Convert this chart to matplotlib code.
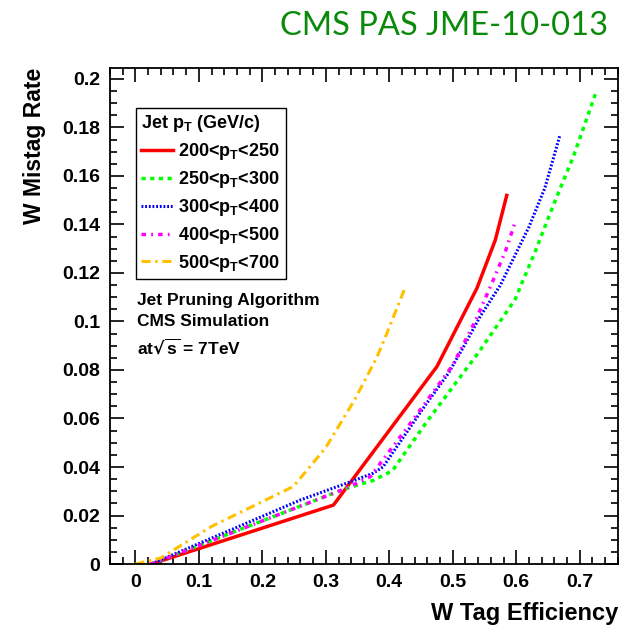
import matplotlib
matplotlib.use("Agg")
import matplotlib.pyplot as plt
from matplotlib.ticker import MultipleLocator

# W tag efficiency vs mistag rate, one curve per jet pT bin
labels = ["200<p$_\\mathregular{T}$<250", "250<p$_\\mathregular{T}$<300",
          "300<p$_\\mathregular{T}$<400", "400<p$_\\mathregular{T}$<500",
          "500<p$_\\mathregular{T}$<700"]

eff_200 = [0.025, 0.312, 0.475, 0.538, 0.567, 0.585]
mis_200 = [0.0, 0.0243, 0.0814, 0.1137, 0.1336, 0.152]

eff_250 = [0.025, 0.33, 0.375, 0.405, 0.46, 0.54, 0.598, 0.63, 0.66, 0.69, 0.725]
mis_250 = [0.0, 0.031, 0.0345, 0.0385, 0.059, 0.087, 0.109, 0.129, 0.149, 0.168, 0.194]

eff_300 = [0.025, 0.26, 0.34, 0.375, 0.39, 0.457, 0.493, 0.517, 0.543, 0.575, 0.62, 0.645, 0.669]
mis_300 = [0.0, 0.0264, 0.034, 0.0375, 0.040, 0.0656, 0.0786, 0.0896, 0.102, 0.115, 0.139, 0.155, 0.177]

eff_400 = [0.025, 0.33, 0.37, 0.436, 0.50, 0.535, 0.562, 0.583, 0.597]
mis_400 = [0.0, 0.031, 0.036, 0.059, 0.082, 0.100, 0.116, 0.129, 0.140]

eff_500 = [0.0, 0.04, 0.12, 0.249, 0.30, 0.346, 0.38, 0.396, 0.425]
mis_500 = [0.0, 0.0025, 0.0155, 0.032, 0.048, 0.068, 0.085, 0.095, 0.114]

plt.rcParams['font.family'] = ['Liberation Sans', 'DejaVu Sans']
plt.rcParams['font.weight'] = 'bold'
plt.rcParams['axes.labelweight'] = 'bold'
plt.rcParams['mathtext.default'] = 'regular'

fig = plt.figure(figsize=(6.38, 6.29), dpi=100)
ax = fig.add_axes([0.1724, 0.1033, 0.796, 0.7886])

ax.plot(eff_200, mis_200, color='#ff0000', lw=2.5, ls='-', label=labels[0])
ax.plot(eff_250, mis_250, color='#00ff00', lw=2.5, dashes=(1.2, 1.3), label=labels[1])
ax.plot(eff_300, mis_300, color='#0000ff', lw=2.2, dashes=(0.6, 0.6), label=labels[2])
ax.plot(eff_400, mis_400, color='#ff00ff', lw=2.5, dashes=(1.3, 1.5, 0.5, 1.5), label=labels[3])
ax.plot(eff_500, mis_500, color='#ffc000', lw=2.2, dashes=(3, 1.5, 0.8, 1.5), label=labels[4])

ax.set_xlim(-0.04, 0.76)
ax.set_ylim(0, 0.2045)
ax.xaxis.set_minor_locator(MultipleLocator(0.02))
ax.yaxis.set_minor_locator(MultipleLocator(0.005))
ax.set_xticks([0, 0.1, 0.2, 0.3, 0.4, 0.5, 0.6, 0.7])
ax.set_xticklabels(['0', '0.1', '0.2', '0.3', '0.4', '0.5', '0.6', '0.7'])
ax.set_yticks([0, 0.02, 0.04, 0.06, 0.08, 0.1, 0.12, 0.14, 0.16, 0.18, 0.2])
ax.set_yticklabels(['0', '0.02', '0.04', '0.06', '0.08', '0.1', '0.12', '0.14', '0.16', '0.18', '0.2'])
ax.tick_params(which='both', direction='in', top=True, right=True, labelsize=14, width=1.2)
ax.tick_params(which='major', length=10, pad=7)
ax.tick_params(which='minor', length=5)
for s in ax.spines.values():
    s.set_linewidth(1.3)

ax.set_xlabel('W Tag Efficiency', fontsize=17, fontweight='bold', loc='right', labelpad=8)
ax.set_ylabel('W Mistag Rate', fontsize=16.5, fontweight='bold', loc='top', labelpad=12)

leg = ax.legend(loc='upper left', bbox_to_anchor=(136 / 638, 1 - 108 / 629),
                bbox_transform=fig.transFigure, title='Jet p$_\\mathregular{T}$ (GeV/c)',
                fontsize=13, title_fontsize=13, fancybox=False, framealpha=1,
                edgecolor='black', handlelength=1.75, handletextpad=0.3,
                labelspacing=0.38, borderpad=0.3, borderaxespad=0, alignment='left')
leg.get_frame().set_linewidth(1.0)
leg.get_title().set_fontweight('bold')

ax.text(137 / 638, 1 - 293 / 629, 'Jet Pruning Algorithm\nCMS Simulation\nat$\\sqrt{s}$ = 7TeV',
        transform=fig.transFigure, fontsize=12.5, va='top', ha='left', linespacing=1.5)

fig.text(608 / 638, 1 - 26 / 629, 'CMS PAS JME-10-013', color='#0a8a0a',
         fontsize=23.5, fontweight='normal', family=['Lato', 'DejaVu Sans'],
         ha='right', va='center')

fig.savefig('out.png', dpi=100)
